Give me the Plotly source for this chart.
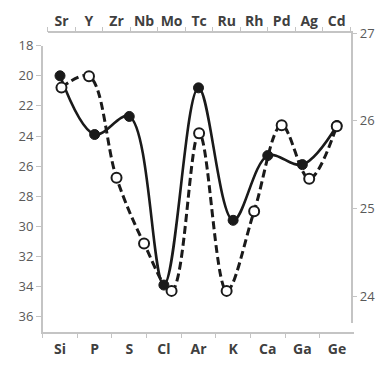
import plotly.graph_objects as go

bottom_cats = ["Si", "P", "S", "Cl", "Ar", "K", "Ca", "Ga", "Ge"]
solid_vals = [20.0, 23.9, 22.7, 33.9, 20.8, 29.6, 25.3, 25.9, 23.3]

top_cats = ["Sr", "Y", "Zr", "Nb", "Mo", "Tc", "Ru", "Rh", "Pd", "Ag", "Cd"]
dashed_vals = [26.38, 26.51, 25.35, 24.60, 24.06, 25.86, 24.06, 24.97, 25.95, 25.34, 25.94]

left_ticks = [18, 20, 22, 24, 26, 28, 30, 32, 34, 36]
right_ticks = [24, 25, 26, 27]

# page body has an 8px margin; figure sized to fit the 386x368 window
OFF = 8
W, H = 370, 352
def px_x(a, b):
    return [(a - OFF) / W, (b - OFF) / W]
def px_y(top, bottom):
    return [1 - (bottom - OFF) / H, 1 - (top - OFF) / H]

fig = go.Figure()
fig.add_trace(go.Scatter(
    x=bottom_cats, y=solid_vals, xaxis="x", yaxis="y", mode="lines+markers",
    line=dict(color="#1a1a1a", width=2.6, shape="spline", smoothing=1.0),
    marker=dict(symbol="circle", size=10, color="#1a1a1a", line=dict(color="#1a1a1a", width=1)),
    showlegend=False))
fig.add_trace(go.Scatter(
    x=top_cats, y=dashed_vals, xaxis="x2", yaxis="y2", mode="lines+markers",
    line=dict(color="#1a1a1a", width=3, shape="spline", smoothing=1.0, dash="8px,4px"),
    marker=dict(symbol="circle", size=10, color="white", line=dict(color="#1a1a1a", width=2)),
    showlegend=False))

axcol = "#c4c4c4"
numfont = dict(family="Open Sans", size=13, color="#595959")
catfont = dict(family="Open Sans", size=14, color="#404040", weight="bold")

fig.update_layout(
    width=W, height=H, margin=dict(l=0, r=0, t=0, b=0),
    paper_bgcolor="white", plot_bgcolor="rgba(0,0,0,0)",
    xaxis=dict(domain=px_x(42.7, 354.3), anchor="y", type="category",
               categoryorder="array", categoryarray=bottom_cats,
               range=[-0.5, 8.5], showline=True, linecolor=axcol, linewidth=1.5,
               ticks="outside", tickson="boundaries", ticklen=5, tickcolor=axcol,
               tickangle=0, ticklabelstandoff=4,
               showgrid=False, zeroline=False, tickfont=catfont, automargin=False),
    yaxis=dict(domain=px_y(45.7, 331.7), anchor="x", range=[37, 18],
               tickvals=left_ticks, showline=True, linecolor=axcol, linewidth=1.5,
               ticks="outside", ticklen=5, tickcolor=axcol,
               showgrid=False, zeroline=False, tickfont=numfont, automargin=False),
    xaxis2=dict(domain=px_x(47.7, 350.5), anchor="y2", side="top", type="category",
                categoryorder="array", categoryarray=top_cats,
                range=[-0.5, 10.5], showline=True, linecolor=axcol, linewidth=1.5,
                ticks="outside", tickson="boundaries", ticklen=5, tickcolor=axcol,
                tickangle=0,
                showgrid=False, zeroline=False, tickfont=catfont, automargin=False),
    yaxis2=dict(domain=px_y(33.3, 323.3), anchor="x2", side="right", range=[23.69, 27],
                tickvals=right_ticks, showline=True, linecolor=axcol, linewidth=1.5,
                ticks="outside", ticklen=5, tickcolor=axcol,
                showgrid=False, zeroline=False, tickfont=numfont, automargin=False),
)

fig.write_html("out.html")
